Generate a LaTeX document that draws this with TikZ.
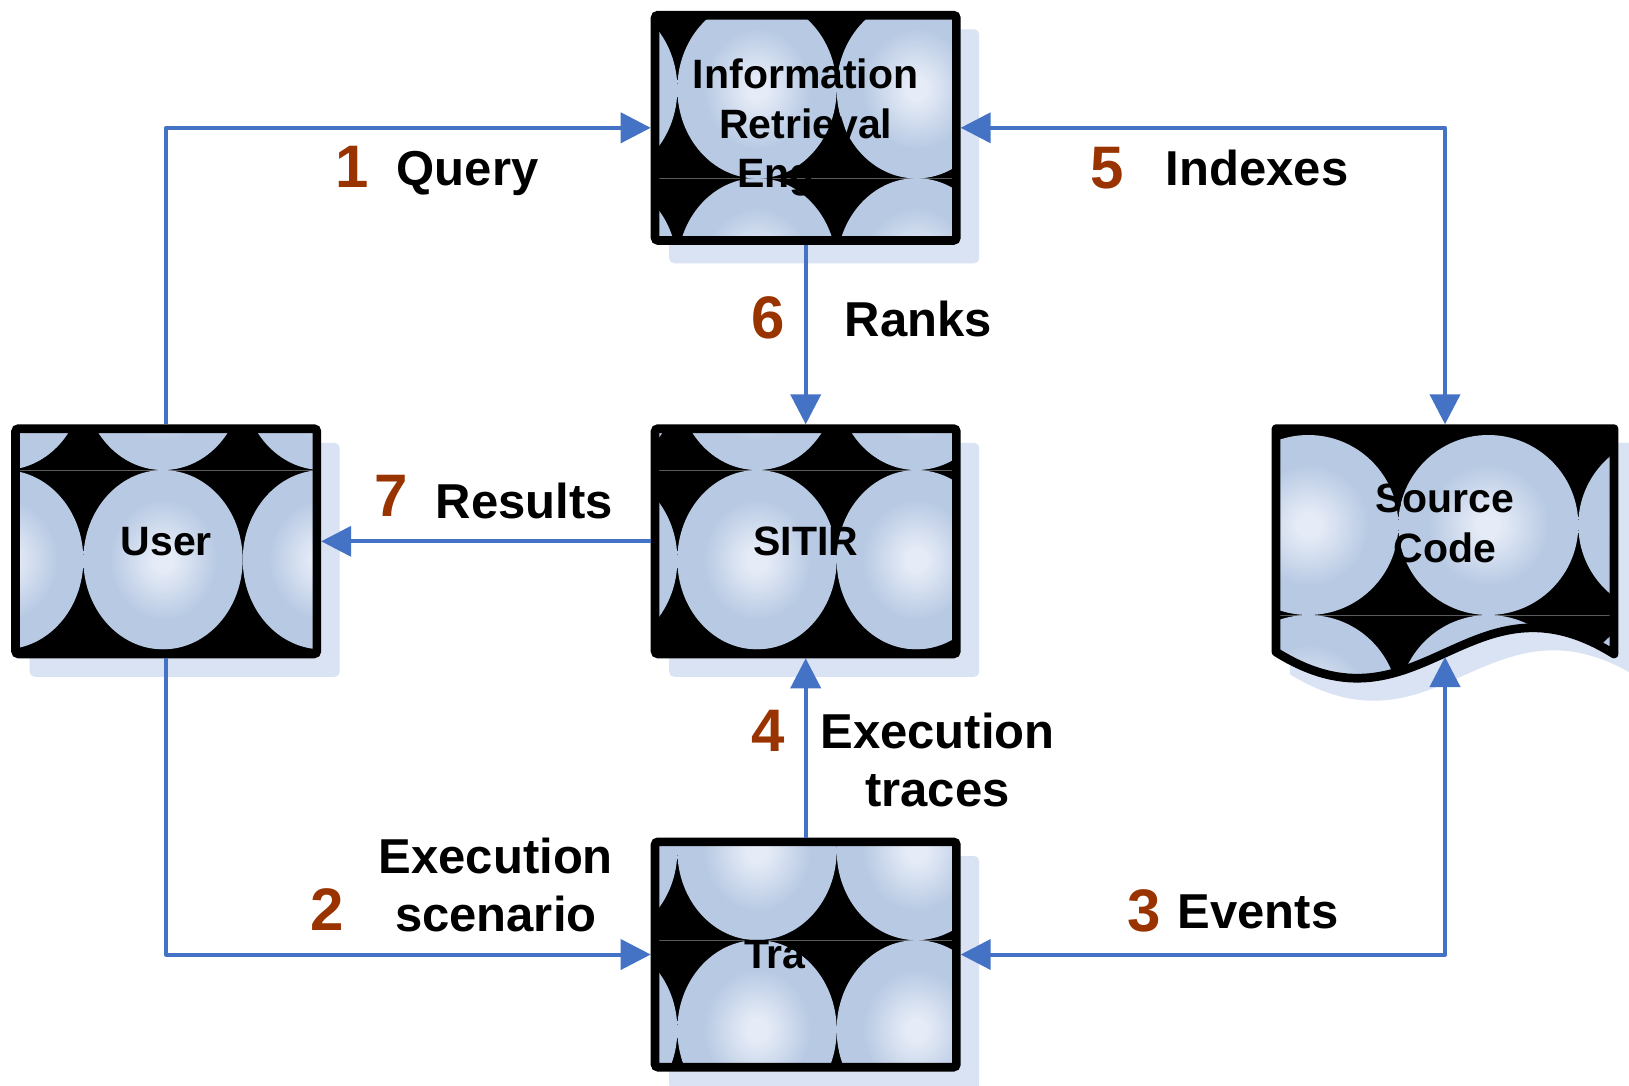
\documentclass[tikz,border=0pt]{standalone}
\usepackage{fontspec}
\setmainfont{Liberation Sans}
\usetikzlibrary{arrows.meta,backgrounds}

\definecolor{bubIn}{RGB}{230,236,247}
\definecolor{bubOut}{RGB}{183,201,227}
\definecolor{shadowblue}{RGB}{218,227,243}
\definecolor{flow}{RGB}{68,114,196}
\definecolor{stepnum}{RGB}{153,51,0}
\definecolor{seamgray}{RGB}{90,90,90}

% light bubble used to tile the boxes
\pgfdeclareradialshading{bubble}{\pgfpoint{0bp}{0bp}}{color(0bp)=(bubIn); color(3bp)=(bubIn); color(17bp)=(bubOut); color(50bp)=(bubOut)}

\newcommand\boxfont{\fontsize{41}{49.5}\selectfont\bfseries}
\newcommand\lblfont{\fontsize{49}{58}\selectfont\bfseries}
\newcommand\numfont{\fontsize{60}{60}\selectfont\bfseries}

\tikzset{
  unit/.style={rectangle, rounded corners=3pt, minimum width=301.3pt, minimum height=225.3pt,
    inner sep=0pt, fill=black, draw=black, line width=8.7pt, font=\boxfont, align=center},
  % #1: column offsets, #2: row offsets of the bubbles, from the box centre
  bubbles/.style 2 args={path picture={
    \foreach \dy in {#2}{
      \draw[seamgray, line width=0.8pt]
        ([shift={(-170,\dy-89.65)}]path picture bounding box.center) --
        ([shift={(170,\dy-89.65)}]path picture bounding box.center);
    }
    \foreach \dx in {#1}{\foreach \dy in {#2}{
      \shade[shading=bubble, draw=none]
        ([shift={(\dx,\dy)}]path picture bounding box.center) ellipse [x radius=79.65, y radius=89.65];
    }}
  }},
  flowline/.style={draw=flow, line width=4pt, line join=round},
  >={Triangle[length=30pt,width=30pt]},
  num/.style={font=\numfont, text=stepnum, inner sep=0pt, anchor=base},
  lbl/.style={font=\lblfont, inner sep=0pt, anchor=base, align=center},
}

\begin{document}
\begin{tikzpicture}[x=1pt, y=-1pt]
\useasboundingbox (0,0) rectangle (1629,1085);

% process boxes
\node[unit, bubbles={{-208,-48.7,110.6}{-39,140}}] (ir) at (805.7,127.8)
  {Information\\Retrieval\\Eng\phantom{ine}};
\node[unit, bubbles={{-162.5,-3.2,156.2}{-160.9,18.4}}] (user) at (166.2,541.3) {User};
\node[unit, bubbles={{-208,-48.7,110.6}{-160.9,18.4}}] (sitir) at (805.7,541.3) {SITIR};
\node[unit, bubbles={{-208,-48.7,110.6}{-104,75.3}}] (tracer) at (805.7,954.5) {Tra\phantom{cer}};

% document shape for the source code
\fill[black] (1276,428.6) -- (1614,428.6) -- (1614,654)
  .. controls (1470,564) and (1420,742) .. (1276,652) -- cycle;
\begin{scope}
  \clip (1276,428.6) -- (1614,428.6) -- (1614,654)
    .. controls (1470,564) and (1420,742) .. (1276,652) -- cycle;
  \draw[seamgray, line width=0.8pt] (1270,615) -- (1620,615);
  \foreach \sx in {1308.3,1488.3,1668.3}{\foreach \sy in {525,705}{
    \shade[shading=bubble] (\sx,\sy) ellipse [x radius=90, y radius=90];
  }}
\end{scope}
\draw[line width=8.7pt, line join=round] (1276,428.6) -- (1614,428.6) -- (1614,654)
  .. controls (1470,564) and (1420,742) .. (1276,652) -- cycle;
\node[font=\boxfont, align=center, inner sep=0pt] (src) at (1445,523.3) {Source\\Code};
\coordinate (srcN) at (1445,424.3);
\coordinate (srcS) at (1445,657);

% shadows and page background
\begin{pgfonlayer}{background}
  \fill[white] (0,0) rectangle (1629,1085);
  \foreach \n in {ir,user,sitir,tracer}{
    \fill[shadowblue, rounded corners=5pt]
      ([shift={(18.5,18.5)}]\n.north west) rectangle ([shift={(18.5,18.5)}]\n.south east);
  }
  \fill[shadowblue, shift={(18.5,18.5)}] (1271.7,424.3) -- (1618.3,424.3) -- (1618.3,658)
    .. controls (1470,568) and (1420,746) .. (1271.7,656) -- cycle;
\end{pgfonlayer}

% flows
\draw[flowline, ->] (user.north) |- (ir.west);
\draw[flowline, ->] (user.south) |- (tracer.west);
\draw[flowline, <->] (tracer.east) -| (srcS);
\draw[flowline, ->] (tracer.north) -- (sitir.south);
\draw[flowline, <->] (ir.east) -| (srcN);
\draw[flowline, ->] (ir.south) -- (sitir.north);
\draw[flowline, ->] (sitir.west) -- (user.east);

% step numbers and labels
\node[num] (n1) at (352,187) {1};
\node[lbl] (l1) at (467.5,185) {Query};
\node[num] (n5) at (1106.7,188) {5};
\node[lbl] (l5) at (1257,185) {Indexes};
\node[num] (n6) at (767.7,338) {6};
\node[lbl] (l6) at (918.3,336) {Ranks};
\node[num] (n7) at (391.3,516.7) {7};
\node[lbl] (l7) at (524.2,518.3) {Results};
\node[num] (n4) at (768,751) {4};
\node[lbl, anchor=center] (l4) at (937.5,759.8) {Execution\\traces};
\node[num] (n2) at (327.2,930.7) {2};
\node[lbl, anchor=center] (l2) at (495.8,885.1) {Execution\\scenario};
\node[num] (n3) at (1143.7,931.7) {3};
\node[lbl] (l3) at (1258,928.3) {Events};
\end{tikzpicture}
\end{document}
